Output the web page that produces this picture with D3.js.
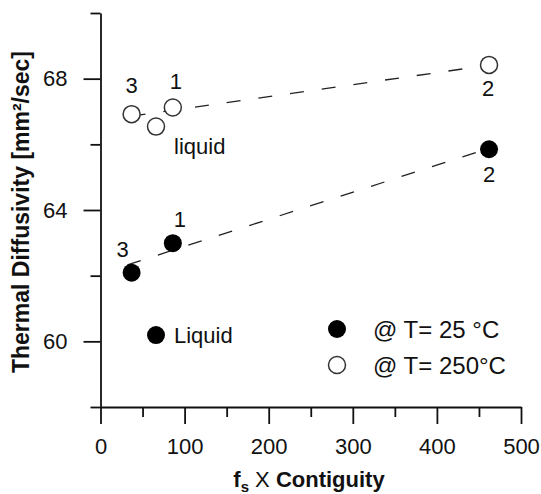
<!DOCTYPE html>
<html>
<head>
<meta charset="utf-8">
<script src="https://cdn.jsdelivr.net/npm/d3@7"></script>
<style>
  html, body { margin: 0; padding: 0; background: #fff; }
  svg { display: block; font-family: Arial, "Liberation Sans", Helvetica, sans-serif; }
</style>
</head>
<body>
<svg id="chart" width="541" height="494"></svg>
<script>
// ---- data ----
const seriesNames = ["@ T= 25 °C", "@ T= 250°C"];
const pointIds = ["3", "1", "2", "liquid"];
const xValues = [37, 86, 462, 66];
const y25 = [62.09, 62.99, 65.85, 60.19];
const y250 = [66.92, 67.12, 68.42, 66.54];
const fit25 = [[32, 62.33], [462, 65.88]];
const fit250 = [[37, 66.86], [462, 68.41]];
const liquidLabels = ["Liquid", "liquid"];
const xMajorTicks = [0, 100, 200, 300, 400, 500];
const xMinorTicks = [50, 150, 250, 350, 450];
const yMajorTicks = [60, 64, 68];
const yMinorTicks = [58, 62, 66, 70];
const xTitle = ["f", "s", " X ", "Contiguity"];
const yTitle = "Thermal Diffusivity [mm\u00B2/sec]";

(function () {
// ---- layout ----
const svg = d3.select("#chart");
const mLeft = 100.5, mRight = 521, mTop = 13, mBottom = 407;
const x = d3.scaleLinear().domain([0, 500]).range([mLeft, mRight]);
const y = d3.scaleLinear().domain([58, 70]).range([mBottom, mTop]);
const FS = 22;

// axes
const gx = svg.append("g").attr("transform", `translate(0,${mBottom})`);
gx.call(d3.axisBottom(x).tickValues(xMajorTicks).tickSize(17).tickSizeOuter(0).tickPadding(14).tickFormat(d3.format("d")));
const gx2 = svg.append("g").attr("transform", `translate(0,${mBottom})`);
gx2.call(d3.axisBottom(x).tickValues(xMinorTicks).tickSize(10).tickSizeOuter(0).tickFormat(""));
gx2.select(".domain").remove();

const gy = svg.append("g").attr("transform", `translate(${mLeft},0)`);
gy.call(d3.axisLeft(y).tickValues(yMajorTicks).tickSize(17).tickSizeOuter(0).tickPadding(16).tickFormat(d3.format("d")));
const gy2 = svg.append("g").attr("transform", `translate(${mLeft},0)`);
gy2.call(d3.axisLeft(y).tickValues(yMinorTicks).tickSize(10).tickSizeOuter(0).tickFormat(""));
gy2.select(".domain").remove();

svg.selectAll(".domain, .tick line").attr("stroke", "#111").attr("stroke-width", 1.8);
svg.selectAll(".tick text").attr("font-size", FS).attr("fill", "#111")
   .attr("font-family", "Arial, 'Liberation Sans', sans-serif");

// axis titles
const xt = svg.append("text").attr("x", 309).attr("y", 487).attr("text-anchor", "middle")
  .attr("font-size", 22).attr("fill", "#111");
xt.append("tspan").attr("font-weight", "bold").text(xTitle[0]);
xt.append("tspan").attr("font-weight", "bold").attr("font-size", 15).attr("dy", 5).text(xTitle[1]);
xt.append("tspan").attr("dy", -5).text(xTitle[2]);
xt.append("tspan").attr("font-weight", "bold").text(xTitle[3]);

svg.append("text").attr("transform", `translate(29,${(mTop + mBottom) / 2 + 2}) rotate(-90)`)
  .attr("text-anchor", "middle").attr("font-size", 23).attr("font-weight", "bold").attr("fill", "#111")
  .text(yTitle);

// fit lines
const line = d3.line().x(d => x(d[0])).y(d => y(d[1]));
[fit25, fit250].forEach(f => {
  svg.append("path").attr("d", line(f)).attr("fill", "none")
    .attr("stroke", "#222").attr("stroke-width", 1.3).attr("stroke-dasharray", "14,18");
});

// points
const pts25 = xValues.map((v, i) => ({ x: v, y: y25[i], id: pointIds[i] }));
const pts250 = xValues.map((v, i) => ({ x: v, y: y250[i], id: pointIds[i] }));

svg.append("g").selectAll("circle").data(pts25).join("circle")
  .attr("cx", d => x(d.x)).attr("cy", d => y(d.y)).attr("r", 9).attr("fill", "#000");
svg.append("g").selectAll("circle").data(pts250).join("circle")
  .attr("cx", d => x(d.x)).attr("cy", d => y(d.y)).attr("r", 8.5)
  .attr("fill", "#fff").attr("stroke", "#333").attr("stroke-width", 1.5);

// number labels
const numOff25 = { "3": [-9, -23], "1": [7, -24], "2": [0, 25] };
const numOff250 = { "3": [0, -29], "1": [3, -26], "2": [-1, 24] };
function addLabels(pts, off) {
  pts.filter(d => d.id !== "liquid").forEach(d => {
    const o = off[d.id];
    svg.append("text").attr("x", x(d.x) + o[0]).attr("y", y(d.y) + o[1])
      .attr("text-anchor", "middle").attr("dominant-baseline", "central")
      .attr("font-size", FS).attr("fill", "#111").text(d.id);
  });
}
addLabels(pts25, numOff25);
addLabels(pts250, numOff250);

// liquid labels
const l25 = pts25.find(d => d.id === "liquid");
svg.append("text").attr("x", x(l25.x) + 18).attr("y", y(l25.y)).attr("dominant-baseline", "central")
  .attr("font-size", FS).attr("fill", "#111").text(liquidLabels[0]);
const l250 = pts250.find(d => d.id === "liquid");
svg.append("text").attr("x", x(l250.x) + 18).attr("y", y(l250.y) + 20).attr("dominant-baseline", "central")
  .attr("font-size", FS).attr("fill", "#111").text(liquidLabels[1]);

// legend
const lg = svg.append("g").attr("transform", "translate(337,329)");
seriesNames.forEach((s, i) => {
  const g = lg.append("g").attr("transform", `translate(0,${i * 36})`);
  if (i === 0) g.append("circle").attr("r", 9).attr("fill", "#000");
  else g.append("circle").attr("r", 8.5).attr("fill", "#fff").attr("stroke", "#333").attr("stroke-width", 1.5);
  g.append("text").attr("x", 36).attr("dominant-baseline", "central").attr("font-size", 24)
    .attr("fill", "#111").text(s);
});
})();
</script>
</body>
</html>
